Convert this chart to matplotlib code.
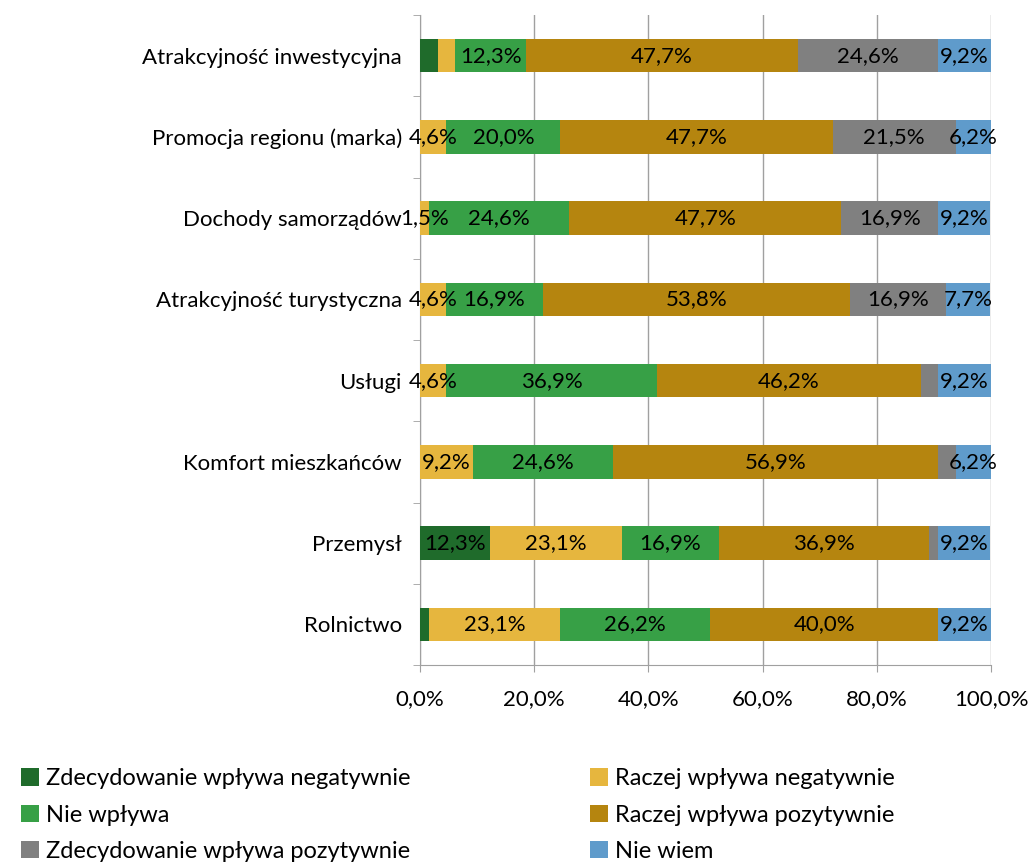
import matplotlib.pyplot as plt
import numpy as np

plt.rcParams['font.family'] = ['Lato', 'DejaVu Sans']

categories = ["Atrakcyjność inwestycyjna", "Promocja regionu (marka)", "Dochody samorządów",
              "Atrakcyjność turystyczna", "Usługi", "Komfort mieszkańców", "Przemysł", "Rolnictwo"]
series = ["Zdecydowanie wpływa negatywnie", "Raczej wpływa negatywnie", "Nie wpływa",
          "Raczej wpływa pozytywnie", "Zdecydowanie wpływa pozytywnie", "Nie wiem"]

zdec_neg = [3.1, 0.0, 0.0, 0.0, 0.0, 0.0, 12.3, 1.5]
raczej_neg = [3.1, 4.6, 1.5, 4.6, 4.6, 9.2, 23.1, 23.1]
nie_wplywa = [12.3, 20.0, 24.6, 16.9, 36.9, 24.6, 16.9, 26.2]
raczej_poz = [47.7, 47.7, 47.7, 53.8, 46.2, 56.9, 36.9, 40.0]
zdec_poz = [24.6, 21.5, 16.9, 16.9, 3.1, 3.1, 1.5, 0.0]
nie_wiem = [9.2, 6.2, 9.2, 7.7, 9.2, 6.2, 9.2, 9.2]

colors = ["#1f6b2b", "#e6b63e", "#37a046", "#b5850f", "#808080", "#5f9bcb"]

data = [zdec_neg, raczej_neg, nie_wplywa, raczej_poz, zdec_poz, nie_wiem]

fig = plt.figure(figsize=(10.29, 8.64), dpi=100)
ax = fig.add_axes([420 / 1029, 1 - 665 / 864, 571 / 1029, 650 / 864])

y = np.arange(len(categories))
left = np.zeros(len(categories))
bars = []
for i, vals in enumerate(data):
    vals = np.array(vals)
    b = ax.barh(y, vals, left=left, height=0.41, color=colors[i], label=series[i], zorder=3)
    bars.append(b)
    for j, v in enumerate(vals):
        # small segments carry no label, except the 1,5% one in "Dochody"
        show = v >= 4.5 or (categories[j] == "Dochody samorządów" and i == 1)
        if show:
            ax.text(left[j] + v / 2, y[j], f"{v:.1f}%".replace(".", ","),
                    ha="center", va="center", fontsize=16, color="black", zorder=4)
    left += vals

ax.set_ylim(len(categories) - 0.5, -0.5)
ax.set_xlim(0, 100)
ax.set_xticks(np.arange(0, 101, 20))
ax.set_xticklabels([f"{t:.1f}%".replace(".", ",") for t in np.arange(0, 101, 20)], fontsize=16)
ax.set_yticks(y)
ax.set_yticklabels(categories, fontsize=16)
ax.set_yticks(np.arange(-0.5, len(categories)), minor=True)
ax.tick_params(axis="y", which="major", length=0, pad=13)
ax.tick_params(axis="y", which="minor", length=5, color="#a0a0a0")
ax.tick_params(axis="x", length=5, color="#a0a0a0", pad=12)
ax.grid(axis="x", color="#a0a0a0", linewidth=1, zorder=0)
for s in ["top", "right"]:
    ax.spines[s].set_visible(False)
for s in ["left", "bottom"]:
    ax.spines[s].set_color("#a0a0a0")

order = [0, 2, 4, 1, 3, 5]
fig.legend([bars[k] for k in order], [series[k] for k in order], ncol=2,
           loc="upper left", bbox_to_anchor=(0.0, 1 - 747 / 864), frameon=False,
           fontsize=17, handlelength=0.75, handleheight=0.75, handletextpad=0.3,
           columnspacing=7.6, labelspacing=0.65)

fig.savefig("out.png", dpi=100)
